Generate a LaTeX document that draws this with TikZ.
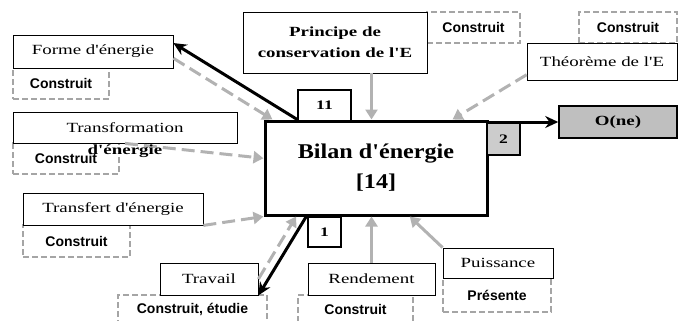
\documentclass[tikz,border=0pt]{standalone}
\usepackage{fontspec}
\setmainfont{Liberation Serif}
\setsansfont{Liberation Sans}
\newfontfamily\widefont[FakeStretch=1.35]{Liberation Serif}
\newfontfamily\titlefont[FakeStretch=1.15]{Liberation Serif}
\usepackage{tikz}
\usetikzlibrary{calc,arrows.meta}
\definecolor{feedgray}{RGB}{178,178,178}
\definecolor{tagline}{RGB}{165,165,165}

\begin{document}
\begin{tikzpicture}[
    x=1pt, y=-1pt,
    concept/.style={rectangle, draw=black, line width=0.8pt, fill=white, inner sep=0pt, align=center, font=\widefont\fontsize{14}{21}\selectfont},
    tag/.style={rectangle, draw=tagline, line width=1.2pt, dash pattern=on 6pt off 3pt, inner sep=0pt, font=\sffamily\bfseries\fontsize{14}{16}\selectfont},
    number/.style={concept, line width=1.5pt, font=\widefont\bfseries\fontsize{13}{15}\selectfont},
    feed/.style={draw=feedgray, line width=3pt, -{Triangle[length=10pt,width=12pt]}},
    feeddash/.style={feed, dash pattern=on 13pt off 6pt},
    outflow/.style={draw=black, line width=3pt, -{Stealth[length=13pt,width=12pt]}}
]
\useasboundingbox (0,0) rectangle (685,321);

\node[tag, minimum width=93pt, minimum height=31pt] (ConstruitP) at (473.5,27.5) {Construit};
\node[tag, minimum width=98pt, minimum height=31pt] (ConstruitT) at (628,27.5) {Construit};
\node[tag, minimum width=96pt, minimum height=31pt] (ConstruitF) at (61,83.5) {Construit};
\node[tag, minimum width=106pt, minimum height=31pt] (ConstruitTr) at (66,158.5) {Construit};
\node[tag, minimum width=107pt, minimum height=32pt] (ConstruitTf) at (76.5,241) {Construit};
\node[tag, minimum width=149pt, minimum height=28pt] (ConstruitTv) at (192.5,309) {Construit, étudie};
\node[tag, minimum width=115pt, minimum height=28pt] (ConstruitR) at (355.5,309) {Construit};
\node[tag, minimum width=108pt, minimum height=34pt] (Presente) at (497,295) {Présente};

\node[concept, font=\widefont\bfseries\fontsize{14}{21}\selectfont, minimum width=184pt, minimum height=61pt] (Principe) at (335,42.5) {Principe de\\conservation de l'E};
\node[concept, minimum width=150pt, minimum height=37pt] (Theoreme) at (602,61.5) {Théorème de l'E};
\node[concept, minimum width=160pt, minimum height=33pt] (Forme) at (93,51.5) {Forme d'énergie};
\node[concept, minimum width=224pt, minimum height=31pt] (Transfo) at (125,127.5) {Transformation};
\node[concept, minimum width=180pt, minimum height=32pt] (Transfert) at (113,209) {Transfert d'énergie};
\node[concept, minimum width=98pt, minimum height=32pt] (Travail) at (209,279) {Travail};
\node[concept, minimum width=127pt, minimum height=32pt] (Rendement) at (371.5,279) {Rendement};
\node[concept, minimum width=110pt, minimum height=30pt] (Puissance) at (498,263) {Puissance};

\node[concept, line width=3pt, minimum width=222pt, minimum height=94pt, font=\titlefont\bfseries\fontsize{21}{30}\selectfont] (Bilan) at (376,168) {Bilan d'énergie\\{}[14]};
\node[number, minimum width=53pt, minimum height=31pt] (Num11) at (324.5,105.5) {11};
\node[number, fill=black!20, minimum width=33pt, minimum height=32pt] (Num2) at (503.5,139) {2};
\node[number, minimum width=33pt, minimum height=30pt] (Num1) at (324.5,232) {1};
\node[concept, fill=black!25, line width=1.5pt, minimum width=118pt, minimum height=32pt, font=\widefont\bfseries\fontsize{14}{16}\selectfont] (One) at (618,122) {O(ne)};

\draw[feed] (Principe.south -| Rendement.north) -- (Bilan.north -| Rendement.north);
\draw[feeddash] ($(Theoreme.south west)!0.15!(Theoreme.north west)$) -- ($(Bilan.north west)!0.84!(Bilan.north east)$);
\draw[feeddash] ($(Forme.north east)!0.7!(Forme.south east)$) -- ($(Bilan.north west)!0.04!(Bilan.north east)$);
\draw[feeddash] (Transfo.south) -- ($(Bilan.north west)!0.4!(Bilan.south west)$);
\draw[feeddash] (Transfert.south east) -- (Bilan.south west);
\draw[feeddash] (Travail.east) -- ($(Bilan.south west)!0.145!(Bilan.south east)$);
\draw[feed] (Rendement.north) -- (Bilan.south -| Rendement.north);
\draw[feed] (Puissance.north west) -- ($(Bilan.south west)!0.65!(Bilan.south east)$);
\draw[outflow] ($(Bilan.north west)!0.15!(Bilan.north east)$) -- ($(Forme.north east)!0.25!(Forme.south east)$);
\draw[outflow] (One.west -| Bilan.east) -- (One.west);
\draw[outflow] ($(Bilan.south west)!0.19!(Bilan.south east)$) -- (Travail.south east);

\node[font=\widefont\bfseries\fontsize{14}{16}\selectfont, anchor=north, inner sep=1pt] (TransfoRest) at (Transfo.south) {d'énergie};
\end{tikzpicture}
\end{document}
